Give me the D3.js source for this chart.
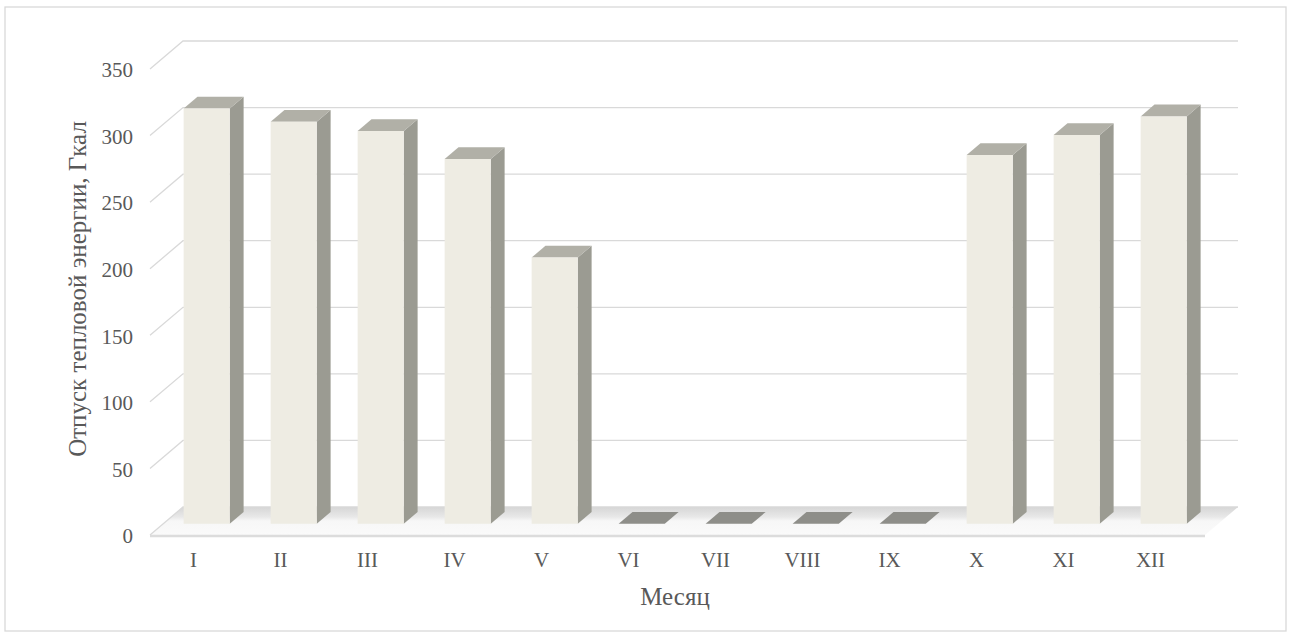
<!DOCTYPE html>
<html><head><meta charset="utf-8">
<script src="https://cdn.jsdelivr.net/npm/d3@7/dist/d3.min.js"></script>
<style>body{margin:0;background:#fff}svg{display:block}</style>
</head><body>
<svg id="c" width="1290" height="639"></svg>
<script>
const months = ["I","II","III","IV","V","VI","VII","VIII","IX","X","XI","XII"];
const values = [312, 302, 295, 274, 200, 0, 0, 0, 0, 277, 292, 306];
const yTicks = [0, 50, 100, 150, 200, 250, 300, 350];
const yTitle = "Отпуск тепловой энергии, Гкал";
const xTitle = "Месяц";

const svg = d3.select("#c");
const font = "'Liberation Serif','Times New Roman',serif";
const DX = 33, DY = 28;             // depth offset of the back wall
const x = d3.scaleBand().domain(months).range([150, 1194]).paddingInner(0.47).paddingOuter(0.235);
const xb = d3.scaleBand().domain(months).range([150, 1194]);
const y = d3.scaleLinear().domain([0, 350]).range([535, 69]);
const P = (px, v, z) => [px + z * DX, y(v) - z * DY];
const poly = pts => pts.map(p => p.join(",")).join(" ");

// chart border
svg.append("rect").attr("x", 5).attr("y", 7).attr("width", 1281).attr("height", 624)
  .attr("fill", "#fff").attr("stroke", "#d9d9d9").attr("stroke-width", 1.3);

// floor
const defs = svg.append("defs");
const g1 = defs.append("linearGradient").attr("id", "fl").attr("x1", 0).attr("y1", 0).attr("x2", 0).attr("y2", 1);
g1.append("stop").attr("offset", "0").attr("stop-color", "#d6d6d6");
g1.append("stop").attr("offset", "0.35").attr("stop-color", "#e8e8e8");
g1.append("stop").attr("offset", "0.5").attr("stop-color", "#f7f7f7");
g1.append("stop").attr("offset", "1").attr("stop-color", "#fafafa");
svg.append("polygon").attr("points", poly([[150, y(0)], [1205, y(0)], [1205 + DX, y(0) - DY], [150 + DX, y(0) - DY]]))
  .attr("fill", "url(#fl)");
svg.append("line").attr("x1", 150).attr("x2", 1205).attr("y1", y(0) + 1).attr("y2", y(0) + 1)
  .attr("stroke", "#dcdcdc").attr("stroke-width", 2.5);

// gridlines: side wall diagonals + back wall
const grid = svg.append("g").attr("stroke", "#d9d9d9").attr("stroke-width", 1.3).attr("fill", "none");
yTicks.forEach(t => {
  const a = P(150, t, 0), b = P(150, t, 1), c = P(1205, t, 1);
  grid.append("polyline").attr("points", poly([a, b, c]));
});

// y tick labels
svg.append("g").selectAll("text").data(yTicks).join("text")
  .attr("x", 133).attr("y", d => y(d) + 1).attr("dy", "0.35em").attr("text-anchor", "end")
  .attr("font-family", font).attr("font-size", 21).attr("fill", "#595959").text(d => d);

// bars
const z0 = 0.40, z1 = 0.82;
const bars = svg.append("g");
months.forEach((m, i) => {
  const v = values[i];
  const x0 = x(m), x1 = x(m) + x.bandwidth();
  const g = bars.append("g");
  if (v > 0) {
    g.append("polygon").attr("points", poly([P(x1, 0, z0), P(x1, 0, z1), P(x1, v, z1), P(x1, v, z0)])).attr("fill", "#9b9b92");
    g.append("polygon").attr("points", poly([P(x0, v, z0), P(x1, v, z0), P(x1, v, z1), P(x0, v, z1)])).attr("fill", "#b1b0a7");
    g.append("polygon").attr("points", poly([P(x0, 0, z0), P(x1, 0, z0), P(x1, v, z0), P(x0, v, z0)])).attr("fill", "#eeece3");
  } else {
    g.append("polygon").attr("points", poly([P(x0, 0, z0), P(x1, 0, z0), P(x1, 0, z1), P(x0, 0, z1)])).attr("fill", "#8e8e89");
  }
});

// x labels
svg.append("g").selectAll("text").data(months).join("text")
  .attr("x", d => xb(d) + xb.bandwidth() / 2).attr("y", 560).attr("dy", "0.35em").attr("text-anchor", "middle")
  .attr("font-family", font).attr("font-size", 21).attr("fill", "#595959").text(d => d);

// titles
svg.append("text").attr("x", 675).attr("y", 596).attr("dy", "0.35em").attr("text-anchor", "middle")
  .attr("font-family", font).attr("font-size", 25).attr("fill", "#595959").text(xTitle);
svg.append("text").attr("transform", "translate(77,289) rotate(-90)").attr("dy", "0.35em").attr("text-anchor", "middle")
  .attr("font-family", font).attr("font-size", 25).attr("fill", "#595959").text(yTitle);
</script>
</body></html>
